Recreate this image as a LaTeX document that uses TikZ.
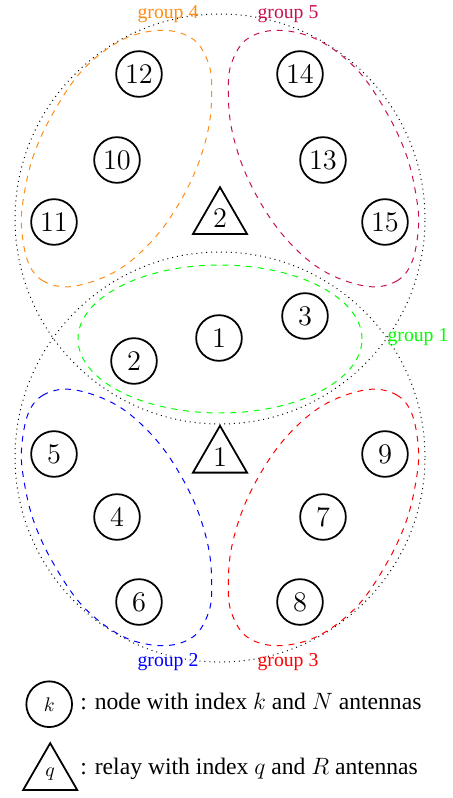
\documentclass[tikz,border=0pt]{standalone}
\usepackage{fontspec}
\setmainfont{Liberation Serif}
\usetikzlibrary{shapes.geometric}
\definecolor{grpfive}{RGB}{200,16,80}
\definecolor{grpfour}{RGB}{255,140,20}
\tikzset{
  usr/.style={circle,draw,line width=0.9pt,minimum size=23.2pt,inner sep=0pt,font=\Large},
  rly/.style={regular polygon,regular polygon sides=3,draw,line width=0.9pt,minimum size=31.7pt,inner sep=0pt,font=\Large},
  area/.style={dotted,line width=0.5pt},
  grp/.style={dashed,line width=0.5pt},
  glabel/.style={anchor=base,inner sep=0pt,font=\normalsize},
  legtext/.style={anchor=base west,inner sep=0pt,font=\large}
}
\newcommand\grpshape[1]{\draw[grp,#1] plot[smooth cycle,tension=0.6] coordinates {
  (70,389.3) (43.3,395) (28.3,413.3) (21.7,446.7) (23.3,476.7) (33.3,520)
  (53.3,563.3) (83.3,606.7) (123.3,636.7) (163.3,645.7) (193.3,636.7)
  (208.3,613.3) (211.7,586.7) (208.3,546.7) (193.3,500) (166.7,453.3)
  (136.7,420) (106.7,400)};}
\begin{document}
\begin{tikzpicture}[x=0.5076pt,y=-0.5076pt]
\useasboundingbox (0,0) rectangle (453,798);
% cell centres
\coordinate (cu) at (220,219);
\coordinate (cl) at (220,457);
\coordinate (cg1) at (220,339);
% dotted cells
\draw[area] (cu) circle[radius=104.06pt];
\draw[area] (cl) circle[radius=104.06pt];
% groups
\draw[grp,green] (cg1) ellipse[x radius=72.08pt,y radius=37.56pt];
\grpshape{blue}
\begin{scope}[shift={(440,0)},xscale=-1]
\grpshape{red}
\end{scope}
\begin{scope}[shift={(0,676)},yscale=-1]
\grpshape{grpfour}
\end{scope}
\begin{scope}[shift={(440,676)},scale=-1]
\grpshape{grpfive}
\end{scope}
% group labels
\node[glabel,text=grpfour] (l4) at (168,18.7) {group 4};
\node[glabel,text=grpfive] (l5) at (288,18.7) {group 5};
\node[glabel,text=green] (l1) at (418,341.7) {group 1};
\node[glabel,text=blue] (l2) at (168,666) {group 2};
\node[glabel,text=red] (l3) at (288,666) {group 3};
% relays
\node[rly] (r2) at (220,218.4) {$2$};
\node[rly] (r1) at (220,457) {$1$};
% users
\node[usr] (n1) at (219,338) {$1$};
\node[usr] (n2) at (134,361) {$2$};
\node[usr] (n3) at (305,316) {$3$};
\node[usr] (n4) at (117,517) {$4$};
\node[usr] (n5) at (54,454) {$5$};
\node[usr] (n6) at (139,602) {$6$};
\node[usr] (n7) at (323,517) {$7$};
\node[usr] (n8) at (300,602) {$8$};
\node[usr] (n9) at (385,454) {$9$};
\node[usr] (n10) at (117,160) {$10$};
\node[usr] (n11) at (54,222) {$11$};
\node[usr] (n12) at (139,74) {$12$};
\node[usr] (n13) at (323,160) {$13$};
\node[usr] (n14) at (300,74) {$14$};
\node[usr] (n15) at (385,222) {$15$};
% legend
\node[usr,font=\normalsize] (lk) at (49.2,704.2) {$k$};
\node[legtext] (tk) at (80,709.3) {: node with index $k$ and $N$ antennas};
\node[rly,font=\normalsize] (lq) at (50.2,774.4) {$q$};
\node[legtext] (tq) at (80,774.3) {: relay with index $q$ and $R$ antennas};
\end{tikzpicture}
\end{document}
